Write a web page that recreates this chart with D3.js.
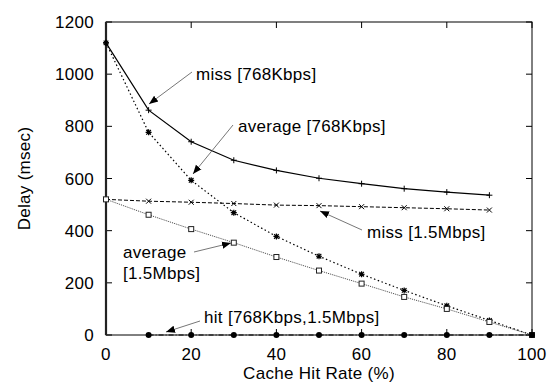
<!DOCTYPE html>
<html>
<head>
<meta charset="utf-8">
<script src="https://cdn.jsdelivr.net/npm/d3@7"></script>
<style>
  html, body { margin: 0; padding: 0; background: #fff; }
  svg { display: block; }
</style>
</head>
<body>
<svg id="chart" width="556" height="383"></svg>
<script>
// hit rate (%) along x
const hitRate = [0, 10, 20, 30, 40, 50, 60, 70, 80, 90, 100]

// delay values (msec)
const miss768 = [1120, 862, 741, 670, 631, 601, 580, 561, 548, 536]
const avg768 = [1120, 777, 593, 469, 378, 302, 233, 171, 112, 56, 0]
const miss15 = [520, 513, 509, 504, 498, 496, 492, 488, 484, 479]
const avg15 = [520, 461, 406, 354, 299, 247, 197, 146, 100, 50, 0]
const hitDelay = [0, 0, 0, 0, 0, 0, 0, 0, 0, 0]   // from 10% to 100%

const xTicks = [0, 20, 40, 60, 80, 100]
const yTicks = [0, 200, 400, 600, 800, 1000, 1200]

const margin = {top: 22, right: 24, bottom: 48, left: 106}
const width = 556, height = 383
const fs = 17

const svg = d3.select("#chart")
    .attr("font-family", "'Liberation Sans', Arial, sans-serif")
    .attr("letter-spacing", "0.3px")

const x = d3.scaleLinear().domain([0, 100]).range([margin.left, width - margin.right])
const y = d3.scaleLinear().domain([0, 1200]).range([height - margin.bottom, margin.top])

const x0 = x.range()[0], x1 = x.range()[1]
const y0 = y.range()[0], y1 = y.range()[1]

// inward ticks on all four sides (gnuplot style)
const tickLen = 6
const ticks = svg.append("g").attr("stroke", "#000").attr("stroke-width", 1)
xTicks.forEach(t => {
    ticks.append("line").attr("x1", x(t)).attr("x2", x(t)).attr("y1", y0).attr("y2", y0 - tickLen)
    ticks.append("line").attr("x1", x(t)).attr("x2", x(t)).attr("y1", y1).attr("y2", y1 + tickLen)
})
yTicks.forEach(t => {
    ticks.append("line").attr("x1", x0).attr("x2", x0 + tickLen).attr("y1", y(t)).attr("y2", y(t))
    ticks.append("line").attr("x1", x1).attr("x2", x1 - tickLen).attr("y1", y(t)).attr("y2", y(t))
})

// frame
svg.append("rect")
    .attr("x", x0).attr("y", y1)
    .attr("width", x1 - x0).attr("height", y0 - y1)
    .attr("fill", "none").attr("stroke", "#000").attr("stroke-width", 1)
svg.append("line")
    .attr("x1", x0).attr("x2", x0).attr("y1", y1).attr("y2", y0)
    .attr("stroke", "#222").attr("stroke-width", 2.2)

// tick labels
svg.append("g").selectAll("text").data(xTicks).join("text")
    .attr("x", d => x(d)).attr("y", y0 + 25)
    .attr("text-anchor", "middle").attr("font-size", fs)
    .text(d => d)
svg.append("g").selectAll("text").data(yTicks).join("text")
    .attr("x", x0 - 12).attr("y", d => y(d)).attr("dy", "0.36em")
    .attr("text-anchor", "end").attr("font-size", fs)
    .text(d => d)

// axis titles
svg.append("text")
    .attr("x", (x0 + x1) / 2).attr("y", y0 + 44)
    .attr("text-anchor", "middle").attr("font-size", fs)
    .text("Cache Hit Rate (%)")
svg.append("text")
    .attr("transform", `translate(30,${(y0 + y1) / 2}) rotate(-90)`)
    .attr("text-anchor", "middle").attr("font-size", fs)
    .text("Delay (msec)")

const line = d3.line().x(d => x(d[0])).y(d => y(d[1]))

function pairs(vals, start) {
    return vals.map((v, i) => [hitRate[i + start], v])
}

const series = [
    {name: "miss768", pts: pairs(miss768, 0), dash: null, color: "#000", w: 1.2, mark: "plus"},
    {name: "avg768", pts: pairs(avg768, 0), dash: "1.5,2.5", color: "#000", w: 1.2, mark: "star"},
    {name: "miss15", pts: pairs(miss15, 0), dash: "4,2", color: "#000", w: 1, mark: "cross"},
    {name: "avg15", pts: pairs(avg15, 0), dash: "1,1", color: "#444", w: 1, mark: "square"},
    {name: "hit", pts: pairs(hitDelay, 1), dash: "5,2,1,2", color: "#000", w: 1, mark: "dot"}
]

series.forEach(s => {
    svg.append("path")
        .attr("d", line(s.pts))
        .attr("fill", "none")
        .attr("stroke", s.color)
        .attr("stroke-width", s.w)
        .attr("stroke-dasharray", s.dash)
})

// point markers
function drawMark(g, kind, px, py) {
    const r = 3
    if (kind === "plus") {
        g.append("path").attr("d", `M${px - r},${py}H${px + r}M${px},${py - r}V${py + r}`)
            .attr("stroke", "#000").attr("stroke-width", 1)
    } else if (kind === "cross") {
        g.append("path").attr("d", `M${px - 2.5},${py - 2.5}L${px + 2.5},${py + 2.5}M${px - 2.5},${py + 2.5}L${px + 2.5},${py - 2.5}`)
            .attr("stroke", "#000").attr("stroke-width", 1)
    } else if (kind === "star") {
        g.append("path").attr("d", `M${px - 2.3},${py - 2.3}L${px + 2.3},${py + 2.3}M${px - 2.3},${py + 2.3}L${px + 2.3},${py - 2.3}M${px - r},${py}H${px + r}M${px},${py - r}V${py + r}`)
            .attr("stroke", "#000").attr("stroke-width", 1.2)
    } else if (kind === "square") {
        g.append("rect").attr("x", px - 2.5).attr("y", py - 2.5).attr("width", 5).attr("height", 5)
            .attr("fill", "#fff").attr("stroke", "#222").attr("stroke-width", 1)
    } else if (kind === "dot") {
        g.append("circle").attr("cx", px).attr("cy", py).attr("r", 3).attr("fill", "#000")
    }
}

const marks = svg.append("g")
series.forEach(s => {
    s.pts.forEach(p => drawMark(marks, s.mark, x(p[0]), y(p[1])))
})

// annotations with arrows
svg.append("defs").append("marker")
    .attr("id", "arr").attr("viewBox", "0 0 10 10")
    .attr("refX", 10).attr("refY", 5)
    .attr("markerWidth", 9).attr("markerHeight", 9)
    .attr("markerUnits", "userSpaceOnUse")
    .attr("orient", "auto")
    .append("path").attr("d", "M0,1L10,5L0,9z").attr("fill", "#000")

const notes = [
    {lines: ["miss [768Kbps]"], tx: 196, ty: 80, from: [192, 72], to: [149, 104]},
    {lines: ["average [768Kbps]"], tx: 238, ty: 132, from: [233, 125], to: [193, 174]},
    {lines: ["miss [1.5Mbps]"], tx: 367, ty: 238, from: [362, 230], to: [320, 211]},
    {lines: ["average", "[1.5Mbps]"], tx: 123, ty: 258, from: [194, 252], to: [231, 243]},
    {lines: ["hit [768Kbps,1.5Mbps]"], tx: 204, ty: 323, from: [200, 321], to: [166, 332]}
]

notes.forEach(n => {
    svg.append("line")
        .attr("x1", n.from[0]).attr("y1", n.from[1])
        .attr("x2", n.to[0]).attr("y2", n.to[1])
        .attr("stroke", "#777").attr("stroke-width", 1)
        .attr("marker-end", "url(#arr)")
    const t = svg.append("text").attr("font-size", fs).attr("x", n.tx).attr("y", n.ty)
    n.lines.forEach((l, i) => {
        t.append("tspan").attr("x", n.tx).attr("dy", i === 0 ? 0 : 21).text(l)
    })
})
</script>
</body>
</html>
